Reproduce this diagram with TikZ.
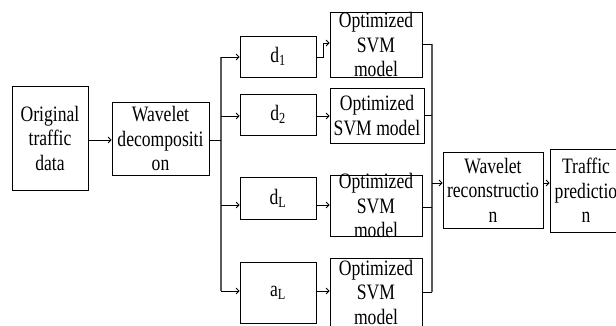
\documentclass[tikz,border=0pt]{standalone}
\usepackage{fontspec}
\setmainfont{Liberation Serif}[FakeStretch=0.8]
\usetikzlibrary{arrows.meta}
\begin{document}
\begin{tikzpicture}[x=1pt,y=-1pt,
  blk/.style={draw=black, line width=0.8pt, inner sep=0pt, fill=none},
  txt/.style={inner sep=0pt, align=center, font=\fontsize{22}{24.5}\selectfont},
  conn/.style={draw=black, line width=0.8pt},
  bus/.style={draw=gray!70!black, line width=1.2pt},
  arr/.style={draw=black, line width=0.8pt, -{Straight Barb[length=3pt,width=6pt]}}]
\useasboundingbox (0,0) rectangle (616,325);
\clip (0,0) rectangle (616,325);
% boxes
\node[blk, minimum width=76pt, minimum height=104pt] (orig) at (50,138) {};
\node[blk, minimum width=97pt, minimum height=73pt] (wd) at (160.5,138.5) {};
\node[blk, minimum width=76pt, minimum height=41pt] (d1) at (278,56.5) {};
\node[blk, minimum width=76pt, minimum height=41pt] (d2) at (278,114.5) {};
\node[blk, minimum width=76pt, minimum height=42pt] (dL) at (278,198) {};
\node[blk, minimum width=76pt, minimum height=61pt] (aL) at (278,292.5) {};
\node[blk, minimum width=92pt, minimum height=65pt] (s1) at (376,44.5) {};
\node[blk, minimum width=94pt, minimum height=55pt] (s2) at (377,115.5) {};
\node[blk, minimum width=92pt, minimum height=61pt] (s3) at (376,205.5) {};
\node[blk, minimum width=92pt, minimum height=70pt] (s4) at (376,293) {};
\node[blk, minimum width=100pt, minimum height=76pt] (wr) at (493,190) {};
\node[blk, minimum width=72pt, minimum height=83pt] (tp) at (586,190.5) {};
% texts
\node[txt] (origt) at (50,138) {Original\\traffic\\data};
\node[txt] (wdt) at (160.5,138.5) {Wavelet\\decompositi\\on};
\node[txt] (d1t) at (278,56.5) {d\textsubscript{1}};
\node[txt] (d2t) at (278,114.5) {d\textsubscript{2}};
\node[txt] (dLt) at (278,198) {d\textsubscript{L}};
\node[txt] (aLt) at (278,292.5) {a\textsubscript{L}};
\node[txt] (s1t) at (376,44.5) {Optimized\\SVM\\model};
\node[txt] (s2t) at (377,115.5) {Optimized\\SVM model};
\node[txt] (s3t) at (376,205.5) {Optimized\\SVM\\model};
\node[txt] (s4t) at (376,292) {Optimized\\SVM\\model};
\node[txt] (wrt) at (493,190) {Wavelet\\reconstructio\\n};
\node[txt] (tpt) at (586,190.5) {Traffic\\predictio\\n};
% left bus
\coordinate (lb0) at (221,140);
\coordinate (lb1) at (221,57);
\coordinate (lb2) at (221,116);
\coordinate (lb3) at (221,205);
\coordinate (lb4) at (221,291);
\draw[bus] (lb1) -- (lb4);
\draw[arr] (orig.east |- lb0) -- (wd.west |- lb0);
\draw[conn] (wd.east |- lb0) -- (lb0);
\draw[arr] (lb1) -- (d1.west |- lb1);
\draw[arr] (lb2) -- (d2.west |- lb2);
\draw[arr] (lb3) -- (dL.west |- lb3);
\draw[arr] (lb4) -- (aL.west |- lb4);
% d -> svm
\coordinate (e1) at (323,57);
\coordinate (e2) at (323,43);
\draw[arr] (d1.east |- e1) -- (e1) -- (e2) -- (s1.west |- e2);
\coordinate (m2) at (0,116);
\coordinate (m3) at (0,205);
\coordinate (m4) at (0,291);
\draw[arr] (d2.east |- m2) -- (s2.west |- m2);
\draw[arr] (dL.east |- m3) -- (s3.west |- m3);
\draw[arr] (aL.east |- m4) -- (s4.west |- m4);
% right bus
\coordinate (rb1) at (432,44);
\coordinate (rb2) at (432,115);
\coordinate (rb3) at (432,207);
\coordinate (rb4) at (432,292);
\coordinate (rb0) at (432,183);
\draw[bus] (rb1) -- (rb4);
\draw[conn] (s1.east |- rb1) -- (rb1);
\draw[conn] (s2.east |- rb2) -- (rb2);
\draw[conn] (s3.east |- rb3) -- (rb3);
\draw[conn] (s4.east |- rb4) -- (rb4);
\draw[arr] (rb0) -- (wr.west |- rb0);
\draw[arr] (wr.east |- rb0) -- (tp.west |- rb0);
\end{tikzpicture}
\end{document}
